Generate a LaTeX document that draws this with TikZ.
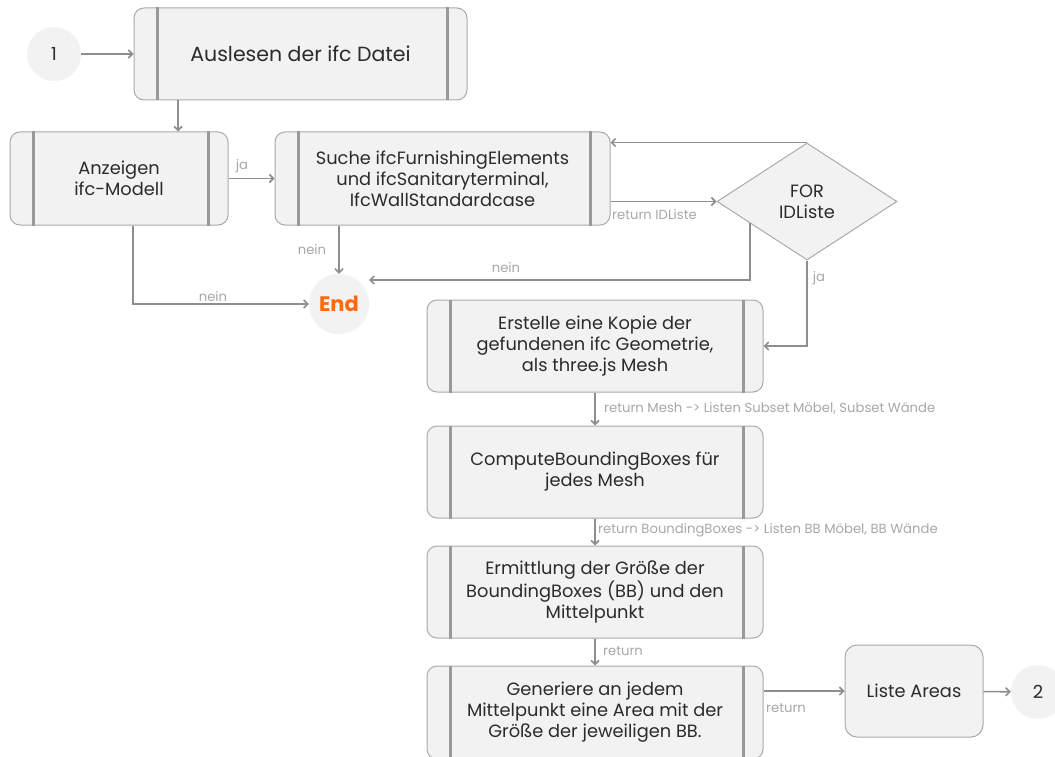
\documentclass[tikz,border=0pt]{standalone}
\usepackage{fontspec}
\setmainfont{Poppins}
\usetikzlibrary{shapes.geometric,arrows.meta}

\definecolor{boxfill}{HTML}{F2F2F2}
\definecolor{boxline}{HTML}{ABABAB}
\definecolor{bargray}{HTML}{999999}
\definecolor{arrowgray}{HTML}{8E8E8E}
\definecolor{lblgray}{HTML}{A8A8A8}
\definecolor{textdark}{HTML}{2B2B2B}
\definecolor{endorange}{HTML}{FF6A10}

\tikzset{
  procbox/.style={rectangle, rounded corners=10pt, draw=boxline, fill=boxfill,
    line width=1pt, align=center, text=textdark, inner sep=0pt,
    font=\fontsize{17.8}{21}\selectfont},
  term/.style={circle, fill=boxfill, inner sep=0pt, text=textdark,
    font=\fontsize{18}{20}\selectfont},
  flow/.style={draw=arrowgray, line width=1.6pt, ->},
  bar/.style={draw=bargray, line width=2.6pt},
  lbl/.style={text=lblgray, inner sep=0pt, font=\fontsize{13.2}{15}\selectfont},
  >={Straight Barb[length=4pt,width=8pt]}
}

\begin{document}
\begin{tikzpicture}[x=1pt,y=-1pt]
\path[use as bounding box, fill=white] (0,0) rectangle (1055,757);

% start
\node[term, minimum size=54pt] (c1) at (54,54) {1};
\node[procbox, minimum width=333pt, minimum height=92pt,
  font=\fontsize{20.5}{24}\selectfont] (read) at (300.5,54) {Auslesen der ifc Datei};

% model and search
\node[procbox, minimum width=218pt, minimum height=93pt] (show) at (119,178.5)
  {Anzeigen\\ifc-Modell};
\node[procbox, minimum width=335pt, minimum height=93pt] (search) at (442.5,178.5)
  {Suche ifcFurnishingElements\\und ifcSanitaryterminal,\\IfcWallStandardcase};
\node[diamond, draw=boxline, fill=boxfill, line width=1pt, inner sep=0pt,
  minimum width=180pt, minimum height=117pt, align=center, text=textdark,
  font=\fontsize{17.8}{21}\selectfont] (loop) at (807,201.5) {FOR\\IDListe};
\node[term, minimum size=60pt, text=endorange,
  font=\bfseries\fontsize{21}{23}\selectfont] (end) at (339,304) {End};

% processing column
\node[procbox, minimum width=336pt, minimum height=92pt] (copy) at (595,346)
  {Erstelle eine Kopie der\\gefundenen ifc Geometrie,\\als three.js Mesh};
\node[procbox, minimum width=336pt, minimum height=92pt] (bbox) at (595,472)
  {ComputeBoundingBoxes für\\jedes Mesh};
\node[procbox, minimum width=336pt, minimum height=92pt] (size) at (595,592)
  {Ermittlung der Größe der\\BoundingBoxes (BB) und den\\Mittelpunkt};
\node[procbox, minimum width=336pt, minimum height=93pt] (area) at (595,712.5)
  {Generiere an jedem\\Mittelpunkt eine Area mit der\\Größe der jeweiligen BB.};
\node[procbox, rounded corners=12pt, minimum width=138pt, minimum height=92pt]
  (list) at (914,691) {Liste Areas};
\node[term, minimum size=54pt] (c2) at (1038,692) {2};

% side bars of the process boxes
\foreach \n in {read,show,search,copy,bbox,size,area} {
  \draw[bar] ([xshift=24pt]\n.north west) -- ([xshift=24pt]\n.south west);
  \draw[bar] ([xshift=-20pt]\n.north east) -- ([xshift=-20pt]\n.south east);
}

\coordinate (k1) at (178,0);
\coordinate (k2) at (133,0);

% connectors
\draw[flow] (c1) -- (read);
\draw[flow] (read.south -| k1) -- (show.north -| k1);
\draw[flow] (show.east) -- (search.west);
\draw[flow] (search.east |- loop.west) -- (loop.west);
\draw[flow] (loop.north) -- (loop.north -| search.east);
\draw[flow] (search.south -| end.north) -- (end.north);
\draw[flow] (show.south -| k2) |- (end.west);
\draw[flow] (loop.201) |- ([yshift=24pt]end.east);
\draw[flow] (loop.south) |- (copy.east);
\draw[flow] (copy.south) -- (bbox.north);
\draw[flow] (bbox.south) -- (size.north);
\draw[flow] (size.south) -- (area.north);
\draw[flow] (list.west -| area.east) -- (list.west);
\draw[flow] (list) -- (c2);

% labels
\node[lbl] (lja1) at (242,166) {ja};
\node[lbl, anchor=west] (lret1) at (612,215) {return IDListe};
\node[lbl] (lnein1) at (312,250) {nein};
\node[lbl] (lnein2) at (506,268) {nein};
\node[lbl] (lnein3) at (213,297) {nein};
\node[lbl] (lja2) at (819,278) {ja};
\node[lbl, anchor=west] (lret2) at (604,408) {return Mesh -> Listen Subset Möbel, Subset Wände};
\node[lbl, anchor=west] (lret3) at (598,530) {return BoundingBoxes -> Listen BB Möbel, BB Wände};
\node[lbl, anchor=west] (lret4) at (603,651) {return};
\node[lbl] (lret5) at (786,708) {return};
\end{tikzpicture}
\end{document}
